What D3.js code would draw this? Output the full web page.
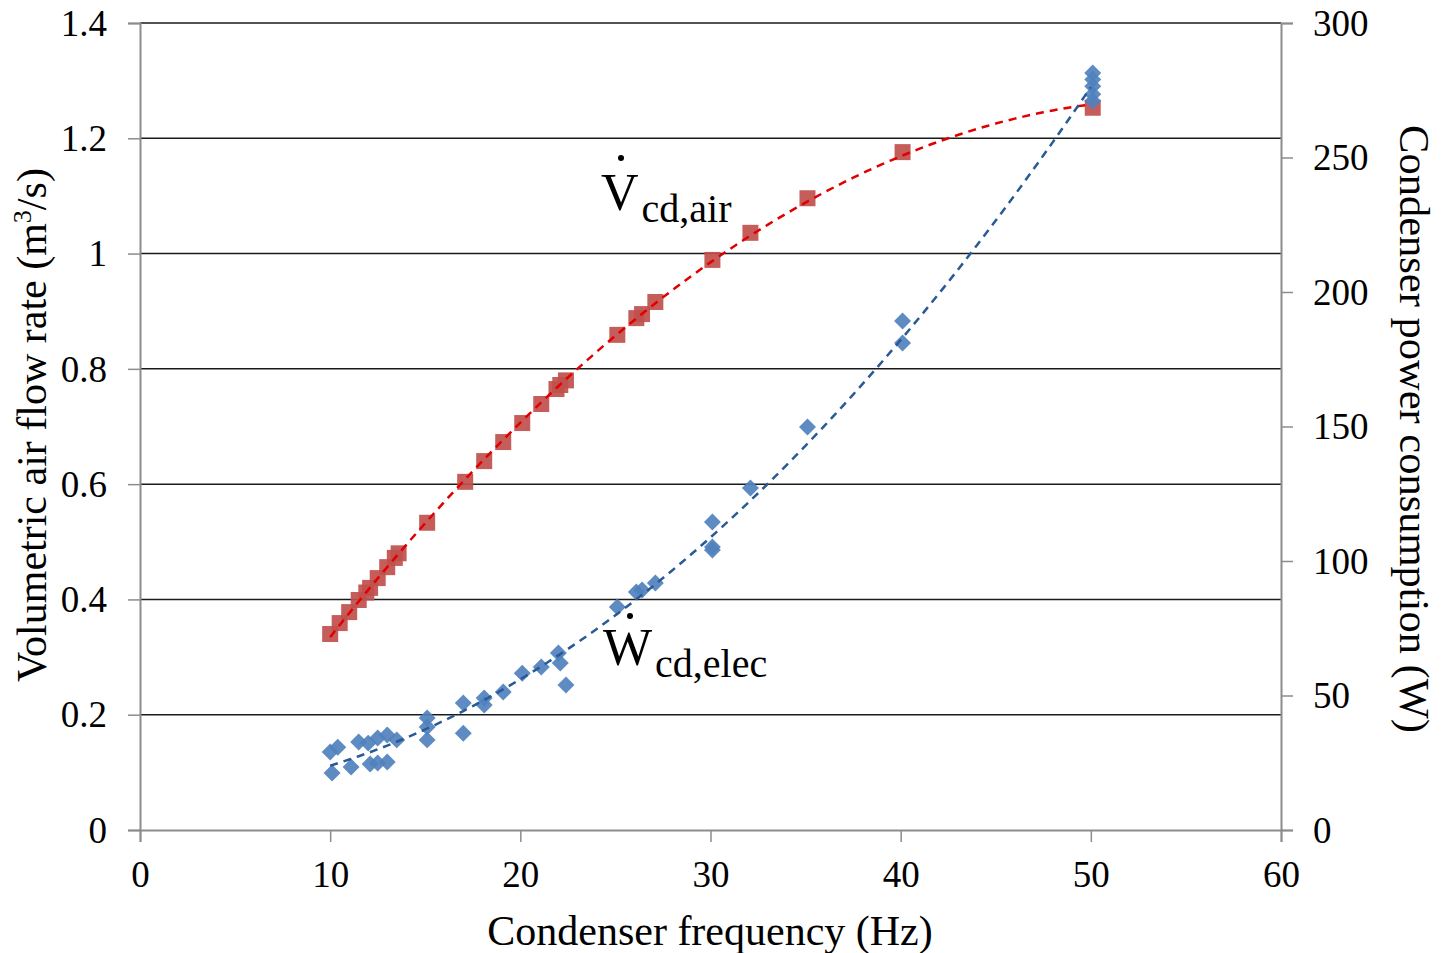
<!DOCTYPE html>
<html>
<head>
<meta charset="utf-8">
<script src="https://cdn.jsdelivr.net/npm/d3@7"></script>
<style>
  body { margin: 0; background: #fff; }
  text { font-family: "Liberation Serif", "Times New Roman", serif; fill: #000; }
</style>
</head>
<body>
<div class="chart"></div>
<script>
// air flow rate (left axis, m3/s) vs condenser frequency
const airFreq = [10, 10.5, 11, 11.5, 11.9, 12.1, 12.5, 13, 13.4, 13.6, 15.1, 17.1, 18.1, 19.1, 20.1, 21.1, 21.9, 22.1, 22.4,
  25.1, 26.1, 26.4, 27.1, 30.1, 32.1, 35.1, 40.1, 50.1]
const airFlow = [0.340, 0.359, 0.378, 0.399, 0.412, 0.420, 0.437, 0.456, 0.472, 0.480, 0.533, 0.604, 0.640, 0.673, 0.706, 0.739, 0.765, 0.772, 0.780,
  0.859, 0.888, 0.895, 0.916, 0.989, 1.036, 1.096, 1.176, 1.253]

// electrical power (right axis, W) vs condenser frequency
const elecFreq = [10, 10.4, 10.1, 11.1, 11.5, 12.0, 12.5, 13.0, 13.5, 12.1, 12.5, 13.0, 15.1, 15.1, 15.1,
  17.0, 17.0, 18.1, 18.1, 19.1, 20.1, 21.1, 22.0, 22.1, 22.4,
  25.1, 26.1, 26.4, 27.1, 30.1, 30.1, 30.1, 32.1, 35.1, 40.1, 40.1,
  50.1, 50.1, 50.1, 50.1, 50.1]
const elecPower = [29.0, 30.8, 21.2, 23.4, 32.7, 32.3, 34.2, 35.3, 33.5, 24.5, 24.9, 25.3, 41.6, 38.3, 33.5,
  47.2, 36.0, 49.1, 46.5, 51.3, 58.3, 60.6, 65.8, 62.1, 53.9,
  82.9, 88.5, 89.2, 91.8, 114.5, 105.2, 104.1, 127.1, 149.8, 189.2, 181.0,
  281.4, 279.0, 276.5, 273.5, 271.0]

const xTicks = [0, 10, 20, 30, 40, 50, 60]
const yLeftTicks = [0, 0.2, 0.4, 0.6, 0.8, 1, 1.2, 1.4]
const yRightTicks = [0, 50, 100, 150, 200, 250, 300]

const width = 1441
const height = 953

const x = d3.scaleLinear().domain([0, 60]).range([140, 1281])
const yL = d3.scaleLinear().domain([0, 1.4]).range([830, 23])
const yR = d3.scaleLinear().domain([0, 300]).range([830, 23])

var svg = d3.select('.chart')
  .append('svg')
  .attr('width', width)
  .attr('height', height)

// least squares quadratic, like the spreadsheet trendline
function polyFit(xs, ys) {
  let s = [0, 0, 0, 0, 0], t = [0, 0, 0]
  xs.forEach((xv, i) => {
    for (let k = 0; k < 5; k++) s[k] += Math.pow(xv, k)
    for (let k = 0; k < 3; k++) t[k] += ys[i] * Math.pow(xv, k)
  })
  let m = [[s[0], s[1], s[2], t[0]], [s[1], s[2], s[3], t[1]], [s[2], s[3], s[4], t[2]]]
  for (let i = 0; i < 3; i++) {
    for (let j = i + 1; j < 3; j++) {
      let f = m[j][i] / m[i][i]
      for (let k = i; k < 4; k++) m[j][k] -= f * m[i][k]
    }
  }
  let c = [0, 0, 0]
  for (let i = 2; i >= 0; i--) {
    let v = m[i][3]
    for (let k = i + 1; k < 3; k++) v -= m[i][k] * c[k]
    c[i] = v / m[i][i]
  }
  return xv => c[0] + c[1] * xv + c[2] * xv * xv
}

// grid lines
svg.selectAll('.grid')
  .data(yLeftTicks.slice(1))
  .enter()
  .append('line')
  .attr('x1', x(0)).attr('x2', x(60))
  .attr('y1', d => yL(d)).attr('y2', d => yL(d))
  .attr('stroke', '#1a1a1a')
  .attr('stroke-width', 1.5)

// axes
const axisColor = '#8c8c8c'
const gx = svg.append('g').attr('transform', 'translate(0,' + yL(0) + ')')
  .call(d3.axisBottom(x).tickValues(xTicks).tickSize(12).tickPadding(21).tickFormat(d3.format('d')))
const gl = svg.append('g').attr('transform', 'translate(' + x(0) + ',0)')
  .call(d3.axisLeft(yL).tickValues(yLeftTicks).tickSize(12).tickPadding(21).tickFormat(d => d3.format('')(+d.toFixed(1))))
const gr = svg.append('g').attr('transform', 'translate(' + x(60) + ',0)')
  .call(d3.axisRight(yR).tickValues(yRightTicks).tickSize(12).tickPadding(20))

;[gx, gl, gr].forEach(g => {
  g.select('.domain').attr('stroke', axisColor).attr('stroke-width', 2)
  g.selectAll('.tick line').attr('stroke', axisColor).attr('stroke-width', 1.5)
  g.selectAll('.tick text')
    .style('font-family', '"Liberation Serif", serif')
    .style('font-size', '37px')
    .attr('fill', '#000')
})
gl.selectAll('.tick text').attr('dy', '0.33em')
gr.selectAll('.tick text').attr('dy', '0.33em')
gx.selectAll('.tick text').attr('dy', '0.66em')

// markers
svg.selectAll('.air')
  .data(airFreq.map((f, i) => [f, airFlow[i]]))
  .enter()
  .append('rect')
  .attr('x', d => x(d[0]) - 8)
  .attr('y', d => yL(d[1]) - 8)
  .attr('width', 16)
  .attr('height', 16)
  .attr('fill', '#c0504d')
  .attr('opacity', 0.92)

svg.selectAll('.elec')
  .data(elecFreq.map((f, i) => [f, elecPower[i]]))
  .enter()
  .append('rect')
  .attr('x', -6)
  .attr('y', -6)
  .attr('width', 12)
  .attr('height', 12)
  .attr('transform', d => 'translate(' + x(d[0]) + ',' + yR(d[1]) + ') rotate(45)')
  .attr('fill', '#4f81bd')
  .attr('opacity', 0.92)

// trendlines
const airFit = polyFit(airFreq, airFlow)
const elecFit = polyFit(elecFreq, elecPower)
const fs = d3.range(10, 50.01, 0.5)

svg.append('path')
  .datum(fs)
  .attr('d', d3.line().x(d => x(d)).y(d => yL(airFit(d))))
  .attr('fill', 'none')
  .attr('stroke', '#e00000')
  .attr('stroke-width', 2.5)
  .attr('stroke-dasharray', '8,6')

svg.append('path')
  .datum(fs)
  .attr('d', d3.line().x(d => x(d)).y(d => yR(elecFit(d))))
  .attr('fill', 'none')
  .attr('stroke', '#2a5a96')
  .attr('stroke-width', 2.5)
  .attr('stroke-dasharray', '8,6')

// axis titles
svg.append('text')
  .attr('x', 710).attr('y', 945)
  .attr('text-anchor', 'middle')
  .style('font-size', '42px')
  .text('Condenser frequency (Hz)')

svg.append('text')
  .attr('transform', 'translate(46,' + 425 + ') rotate(-90)')
  .attr('text-anchor', 'middle')
  .style('font-size', '42px')
  .html('Volumetric air flow rate (m<tspan font-size="26px" dy="-15">3</tspan><tspan dy="15">/s)</tspan>')

svg.append('text')
  .attr('transform', 'translate(1400,' + 429 + ') rotate(90)')
  .attr('text-anchor', 'middle')
  .style('font-size', '42.5px')
  .text('Condenser power consumption (W)')

// series labels
function seriesLabel(lx, ly, main, sub, dotX, dotY) {
  const t = svg.append('text').attr('x', lx).attr('y', ly).style('font-size', '52px')
  t.append('tspan').text(main)
  t.append('tspan').attr('dx', 3).attr('dy', 12).style('font-size', '40px').text(sub)
  // dot accent over the letter
  svg.append('circle').attr('cx', dotX).attr('cy', dotY).attr('r', 3).attr('fill', '#000')
}
seriesLabel(601, 210, 'V', 'cd,air', 621, 158)
seriesLabel(603, 665, 'W', 'cd,elec', 630, 616)
</script>
</body>
</html>
